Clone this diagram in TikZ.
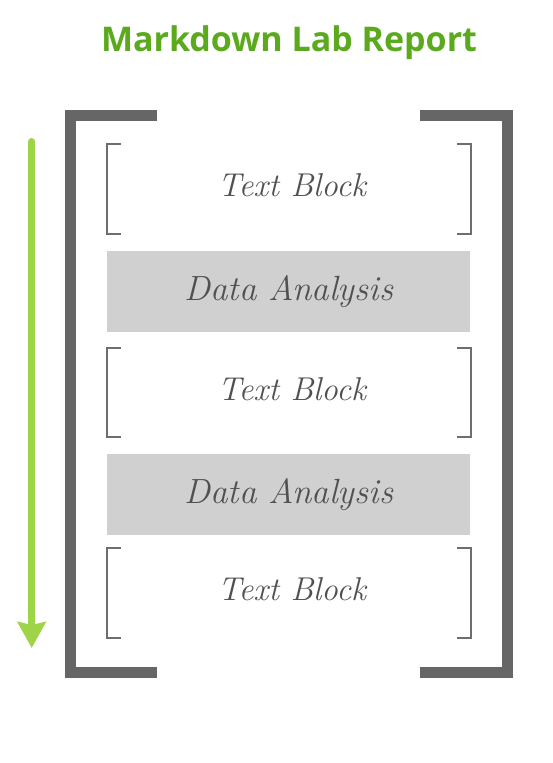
\documentclass[tikz,border=0pt]{standalone}
\usepackage{fontspec}
\newfontfamily\titlefont{Open Sans}
\usetikzlibrary{arrows.meta}
\definecolor{titlegreen}{HTML}{5BAA1E}
\definecolor{arrowgreen}{HTML}{9ED448}
\definecolor{framegray}{HTML}{666666}
\definecolor{bracketgray}{HTML}{6E6E6E}
\definecolor{datagray}{HTML}{D0D0D0}
\definecolor{textgray}{HTML}{505050}

\begin{document}
\begin{tikzpicture}[x=1pt, y=1pt,
  textblock/.style={minimum width=364pt, minimum height=89pt, inner sep=0pt,
    font=\fontsize{33}{33}\selectfont\itshape, text=textgray, text height=24pt, text depth=9pt},
  databox/.style={textblock, fill=datagray, minimum width=363pt, minimum height=81pt,
    font=\fontsize{35}{35}\selectfont\itshape, text depth=6pt},
  bracket/.style={draw=bracketgray, line width=2pt},
  frame/.style={draw=framegray, line width=11pt}]
\useasboundingbox (0,0) rectangle (553,-763);
\node[font=\titlefont\bfseries\fontsize{34}{34}\selectfont, text=titlegreen, anchor=base] (title) at (289,-51.7) {Markdown Lab Report};
\node[inner sep=0pt, minimum width=436.7pt, minimum height=556.5pt] (report) at (288.9,-393.75) {};
\node[textblock] (t1) at (289,-189) {\hspace{6pt}Text Block};
\node[databox] (d1) at (288.7,-291.5) {Data Analysis};
\node[textblock] (t2) at (289,-392.5) {\hspace{6pt}Text Block};
\node[databox] (d2) at (288.7,-494) {Data Analysis};
\node[textblock] (t3) at (289,-593) {\hspace{6pt}Text Block};
% brackets round the text blocks
\foreach \n in {t1,t2,t3} {
  \draw[bracket] ([xshift=14pt]\n.north west) -| (\n.south west) -- ++(14pt,0);
  \draw[bracket] ([xshift=-14pt]\n.north east) -| (\n.south east) -- ++(-14pt,0);
}
% outer frame
\draw[frame] ([xshift=86.5pt]report.north west) -| (report.south west) -- ++(86.5pt,0);
\draw[frame] ([xshift=-87pt]report.north east) -| (report.south east) -- ++(-87pt,0);
% reading direction
\coordinate (flowtop) at (31.7,-141.5);
\coordinate (flowend) at (31.7,-648);
\draw[arrowgreen, line width=7pt, line cap=round, -{Stealth[length=26pt,width=28pt,inset=3pt]}] (flowtop) -- (flowend);
\end{tikzpicture}
\end{document}
